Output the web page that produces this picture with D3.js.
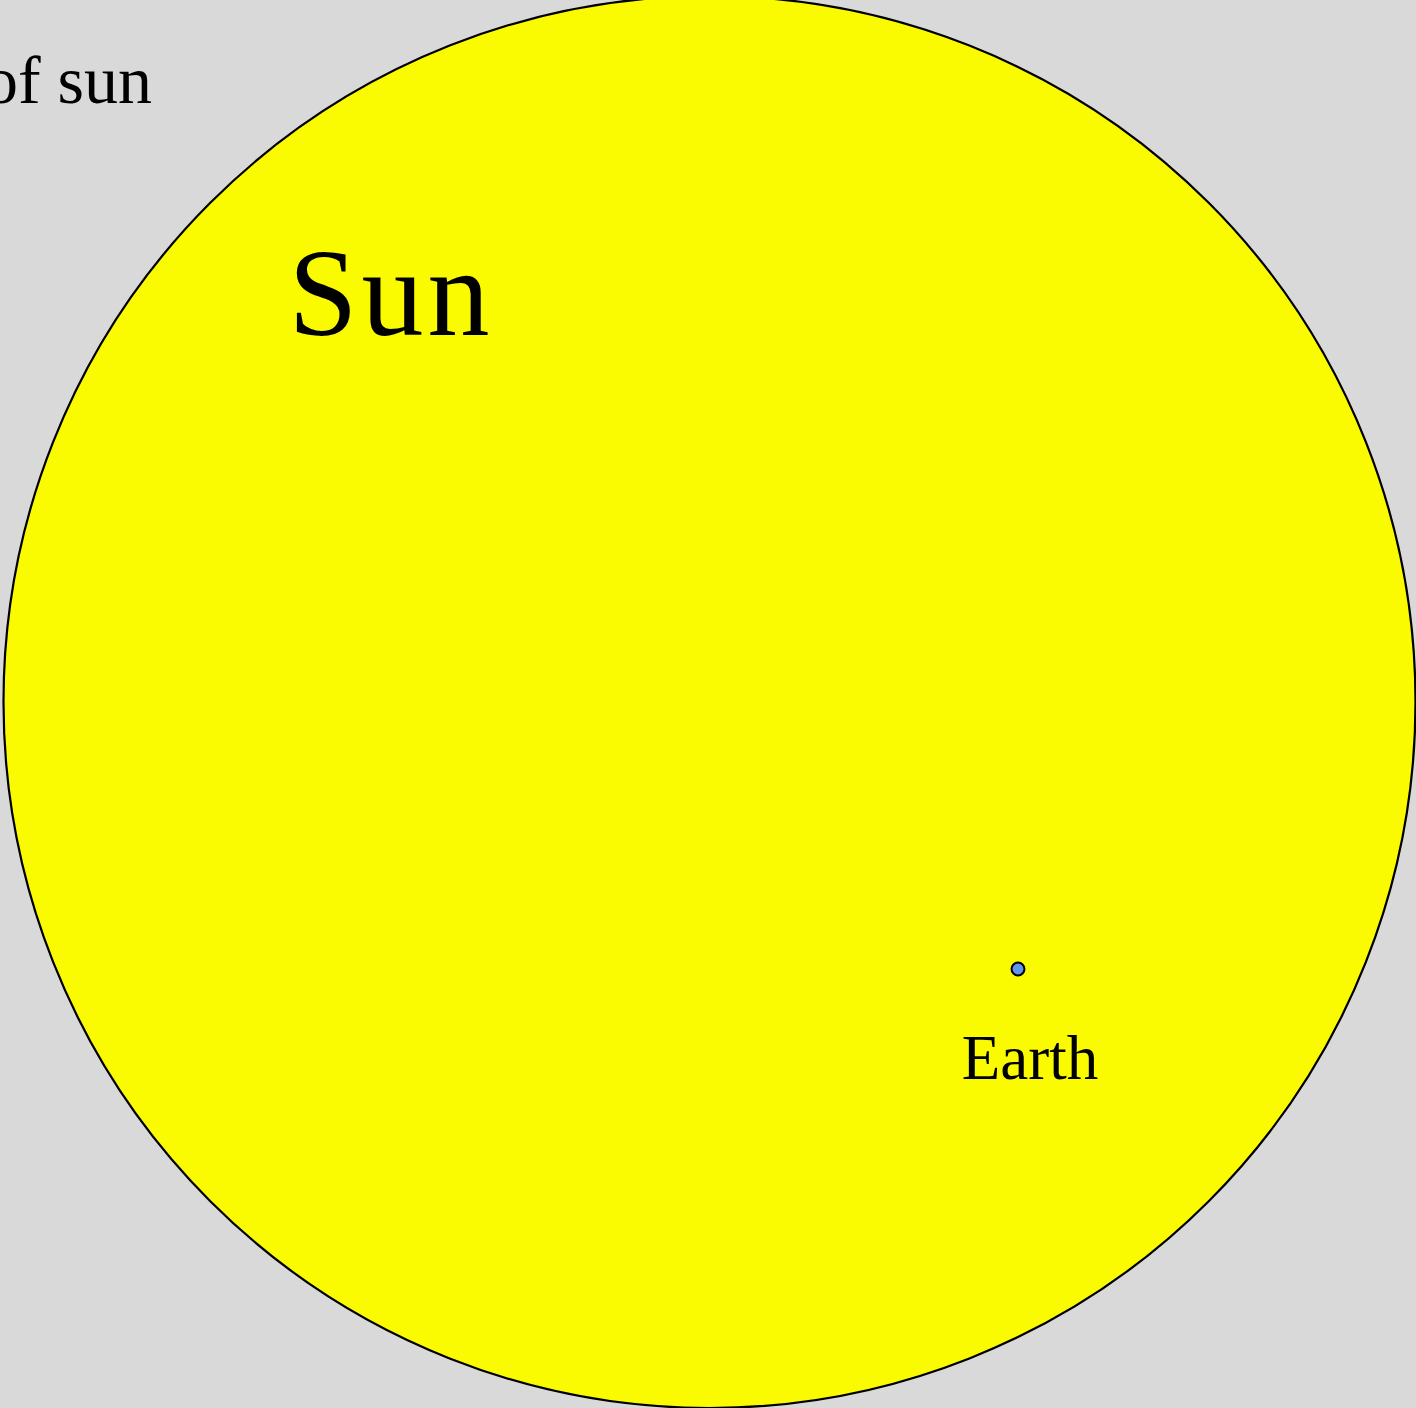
<!DOCTYPE html>
<html>
<head>
<meta charset="utf-8">
<script src="https://cdn.jsdelivr.net/npm/d3@7"></script>
<style>
  html, body { margin: 0; padding: 0; background: #d9d9d9; overflow: hidden; }
  svg { display: block; }
  text { font-family: "Liberation Serif", "DejaVu Serif", serif; fill: #000; }
</style>
</head>
<body>
<svg id="chart"></svg>
<script>
// bodies and their diameters in km
var bodies = ['Sun', 'Earth'];
var diameters = [1392700, 12742];
var colors = ['#fafa00', '#6495ed'];
var title = 'of sun';

var width = 1416;
var height = 1408;

var svg = d3.select('#chart')
  .attr('width', width)
  .attr('height', height);

svg.append('rect')
  .attr('width', width)
  .attr('height', height)
  .attr('fill', '#d9d9d9');

// diameter in km -> diameter in px
var size = d3.scaleLinear()
  .domain([0, d3.max(diameters)])
  .range([0, 1412]);

// where each body sits on the page
var centers = [[709.5, 702], [1018, 969]];

var g = svg.selectAll('g.body')
  .data(bodies)
  .enter().append('g')
  .attr('class', 'body')
  .attr('transform', function (d, i) {
    return 'translate(' + centers[i][0] + ',' + centers[i][1] + ')';
  });

g.append('circle')
  .attr('r', function (d, i) { return size(diameters[i]) / 2; })
  .attr('fill', function (d, i) { return colors[i]; })
  .attr('stroke', '#000')
  .attr('stroke-width', function (d, i) { return i === 0 ? 2.2 : 2; });

// labels
var labelPos = [[-421, -367], [12, 110]];
var labelSize = [124, 63];
var labelAnchor = ['start', 'middle'];
var labelSpacing = [4, 0];

g.append('text')
  .attr('x', function (d, i) { return labelPos[i][0]; })
  .attr('y', function (d, i) { return labelPos[i][1]; })
  .attr('text-anchor', function (d, i) { return labelAnchor[i]; })
  .style('font-size', function (d, i) { return labelSize[i] + 'px'; })
  .style('letter-spacing', function (d, i) { return labelSpacing[i] + 'px'; })
  .text(function (d) { return d; });

// title, clipped at the left edge as in the original
svg.append('text')
  .attr('x', 152)
  .attr('y', 103)
  .attr('text-anchor', 'end')
  .style('font-size', '68px')
  .text(title);
</script>
</body>
</html>
